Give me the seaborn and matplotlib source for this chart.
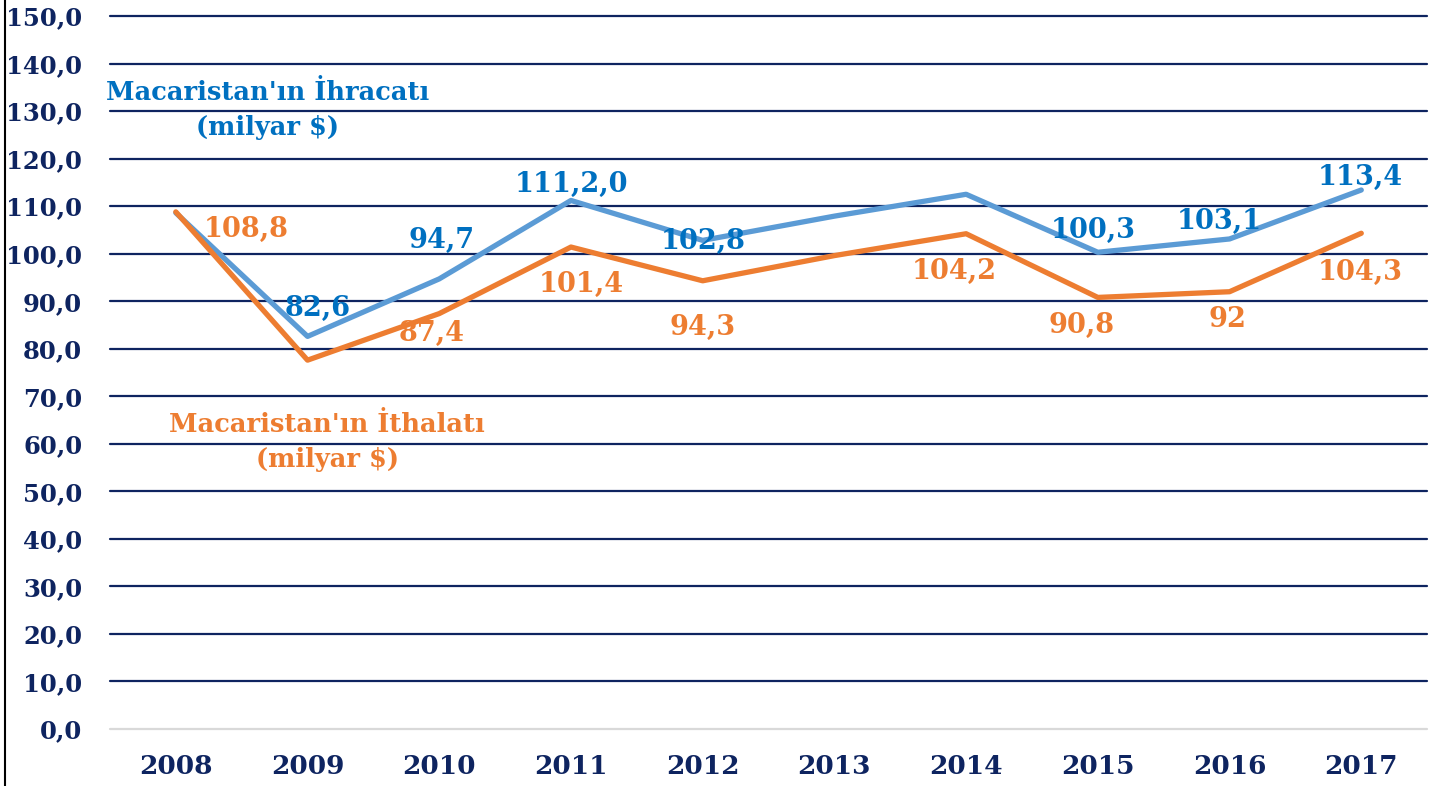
import matplotlib
matplotlib.use("Agg")
import matplotlib.pyplot as plt
from matplotlib.lines import Line2D
from matplotlib.ticker import FuncFormatter, MultipleLocator
import seaborn as sns
import pandas as pd

years = [2008, 2009, 2010, 2011, 2012, 2013, 2014, 2015, 2016, 2017]
exports = [108.6, 82.6, 94.7, 111.2, 102.8, 107.9, 112.5, 100.3, 103.1, 113.4]
imports = [108.8, 77.6, 87.4, 101.4, 94.3, 99.6, 104.2, 90.8, 92.0, 104.3]
export_labels = [None, "82,6", "94,7", "111,2,0", "102,8", None, None, "100,3", "103,1", "113,4"]
import_labels = ["108,8", None, "87,4", "101,4", "94,3", None, "104,2", "90,8", "92", "104,3"]
export_name = "Macaristan'ın İhracatı\n(milyar $)"
import_name = "Macaristan'ın İthalatı\n(milyar $)"

# label offsets in pixels (dx, dy)
export_off = [None, (10, 28), (2, 38), (0, 16), (1, -1), None, None, (-5, 22), (-10, 17), (-1, 13)]
import_off = [(70, -18), None, (-8, -20), (10, -37), (0, -47), None, (-12, -38), (-16, -28), (-2, -28), (-1, -39)]

BLUE = "#5B9BD5"
BLUE_TXT = "#0070C0"
ORANGE = "#ED7D31"
NAVY = "#0E2460"

sns.set_theme(style="white")
plt.rcParams["font.family"] = ["DejaVu Serif"]
plt.rcParams["font.weight"] = "bold"

df = pd.DataFrame({"year": years + years,
                   "value": exports + imports,
                   "series": ["exp"] * len(years) + ["imp"] * len(years)})

fig = plt.figure(figsize=(14.43, 7.86), dpi=100)
ax = fig.add_axes([0.0762, 0.0725, 0.9128, 0.9071])

ax.set_ylim(0, 150)
ax.set_xlim(2007.5, 2017.5)
ax.yaxis.set_major_locator(MultipleLocator(10))
ax.set_xticks(years)
ax.yaxis.set_major_formatter(FuncFormatter(lambda v, p: f"{v:.1f}".replace(".", ",")))

for v in range(10, 151, 10):
    ax.axhline(v, color=NAVY, lw=1.6, zorder=1, clip_on=False)
ax.axhline(0, color="#D9D9D9", lw=1.6, zorder=1, clip_on=False)

sns.lineplot(data=df, x="year", y="value", hue="series",
             palette={"exp": BLUE, "imp": ORANGE}, linewidth=3.8,
             legend=False, ax=ax, zorder=3)

for y, v, lab, off in zip(years, exports, export_labels, export_off):
    if lab:
        ax.annotate(lab, xy=(y, v), xytext=off, textcoords="offset pixels",
                    ha="center", va="center", color=BLUE_TXT, fontsize=19.5,
                    fontweight="bold", zorder=4)
for y, v, lab, off in zip(years, imports, import_labels, import_off):
    if lab:
        ax.annotate(lab, xy=(y, v), xytext=off, textcoords="offset pixels",
                    ha="center", va="center", color=ORANGE, fontsize=19.5,
                    fontweight="bold", zorder=4)

ax.text(0.12, 0.868, export_name, transform=ax.transAxes, ha="center", va="center",
        color=BLUE_TXT, fontsize=18.5, fontweight="bold", linespacing=1.5)
ax.text(0.165, 0.403, import_name, transform=ax.transAxes, ha="center", va="center",
        color=ORANGE, fontsize=18.5, fontweight="bold", linespacing=1.5)

for s in ax.spines.values():
    s.set_visible(False)
ax.tick_params(axis="both", length=0, colors=NAVY, labelsize=17.5)
ax.tick_params(axis="y", pad=20)
ax.tick_params(axis="x", pad=18, labelsize=19)
for t in ax.get_xticklabels() + ax.get_yticklabels():
    t.set_fontweight("bold")
ax.set_xlabel("")
ax.set_ylabel("")
ax.grid(False)

fig.add_artist(Line2D([0.0035, 0.0035], [0, 1], transform=fig.transFigure, color="black", lw=1.5))

fig.savefig("out.png", dpi=100)
